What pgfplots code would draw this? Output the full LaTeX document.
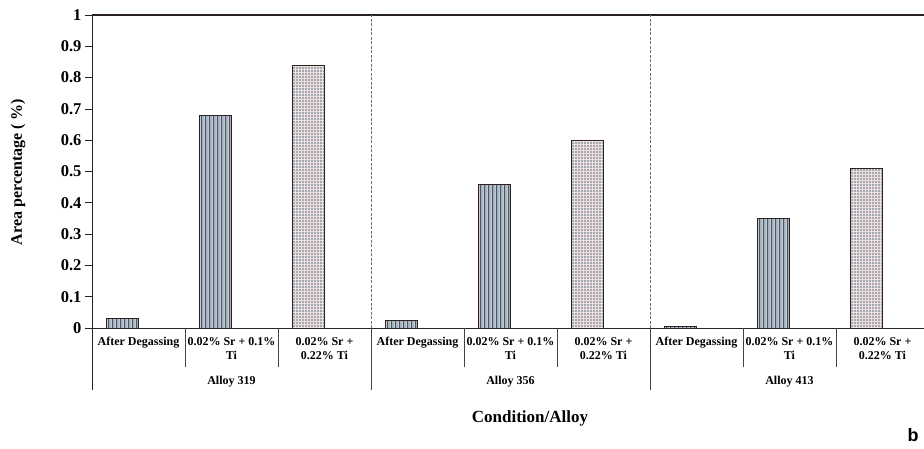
\documentclass[border=0pt]{standalone}
\usepackage{pgfplots}
\usepackage{pgfplotstable}
\pgfplotsset{compat=1.18}
\usepackage{fontspec}
\setmainfont{Liberation Serif}
\newfontfamily\labelsans{Liberation Sans}
\usetikzlibrary{patterns.meta}

\definecolor{stripedark}{HTML}{3C5D71}
\definecolor{stripelight}{HTML}{9DC0D3}
\definecolor{barback}{HTML}{F3D2CC}
\definecolor{dotcol}{HTML}{45758F}
\definecolor{dotback}{HTML}{F3DEDB}
\definecolor{sepline}{HTML}{3A4650}
\definecolor{dashcol}{HTML}{55788E}
\definecolor{axiscol}{HTML}{2A2222}

% after degassing and 0.02% Sr + 0.1% Ti (x = category index)
\pgfplotstableread{
x  y
0  0.03
1  0.68
3  0.025
4  0.46
6  0.005
7  0.35
}\striped
% 0.02% Sr + 0.22% Ti
\pgfplotstableread{
x  y
2  0.84
5  0.60
8  0.51
}\dotted

\begin{document}
\begin{tikzpicture}[x=1pt,y=1pt]
\path[use as bounding box] (0,0) rectangle (924,-449);
\begin{axis}[
  at={(92pt,-328pt)}, anchor=south west,
  scale only axis, width=837pt, height=313pt,
  xmin=-0.5, xmax=8.5, ymin=0, ymax=1,
  clip=false,
  axis x line*=bottom, axis y line*=left,
  axis line style={-, axiscol, line width=0.9pt},
  xtick={0,...,8},
  xticklabels={After Degassing, 0.02\% Sr + 0.1\%\\Ti, 0.02\% Sr +\\0.22\% Ti,
               After Degassing, 0.02\% Sr + 0.1\%\\Ti, 0.02\% Sr +\\0.22\% Ti,
               After Degassing, 0.02\% Sr + 0.1\%\\Ti, 0.02\% Sr +\\0.22\% Ti},
  xtick style={draw=none},
  x tick label style={font=\bfseries\fontsize{12}{13.5}\selectfont, align=center,
                      anchor=north, yshift=-6pt},
  ytick={0,0.1,...,1},
  yticklabels={0,0.1,0.2,0.3,0.4,0.5,0.6,0.7,0.8,0.9,1},
  ytick align=outside, major tick length=7pt,
  ytick style={axiscol, line width=0.8pt},
  y tick label style={font=\bfseries\fontsize{16.5}{16.5}\selectfont},
  every axis plot/.append style={ybar, forget plot},
]
% striped bars: pink ground, then dark and light vertical stripes, then outline
\addplot[bar width=32pt, bar shift=-16pt, fill=barback, draw=none] table {\striped};
\pgfplotsinvokeforeach{-30,-26,-22,-18,-14,-10,-6,-2}{
  \addplot[bar width=1.5pt, bar shift=#1pt, fill=stripedark, draw=none] table {\striped};
}
\pgfplotsinvokeforeach{-28,-24,-20,-16,-12,-8,-4}{
  \addplot[bar width=1.2pt, bar shift=#1pt, fill=stripelight, draw=none] table {\striped};
}
\addplot[bar width=32pt, bar shift=-16pt, fill=none, draw=axiscol, line width=0.8pt] table {\striped};
% dotted bars
\addplot[bar width=32pt, bar shift=-16pt, draw=axiscol, line width=0.8pt,
  fill=dotback, postaction={pattern color=dotcol, pattern={Dots[distance=3pt,radius=0.8pt]}}]
  table {\dotted};

% top frame line
\draw[axiscol, line width=1.6pt] (rel axis cs:0,1) -- (rel axis cs:1,1);
% alloy separators inside the plot
\draw[dashcol, line width=0.9pt, dash pattern=on 3pt off 1.5pt] (axis cs:2.5,0) -- (axis cs:2.5,1);
\draw[dashcol, line width=0.9pt, dash pattern=on 3pt off 1.5pt] (axis cs:5.5,0) -- (axis cs:5.5,1);
% category table lines below the axis
\draw[axiscol, line width=0.9pt] (axis cs:-0.5,0) -- ([yshift=-62pt]axis cs:-0.5,0);
\pgfplotsinvokeforeach{0.5,1.5,3.5,4.5,6.5,7.5}{
  \draw[sepline, line width=0.7pt] (axis cs:#1,0) -- ([yshift=-39pt]axis cs:#1,0);
}
\pgfplotsinvokeforeach{2.5,5.5,8.5}{
  \draw[sepline, line width=0.7pt] (axis cs:#1,0) -- ([yshift=-62pt]axis cs:#1,0);
}
% alloy names
\node[font=\bfseries\fontsize{12}{14}\selectfont] at ([yshift=-54pt]axis cs:1,0) {Alloy 319};
\node[font=\bfseries\fontsize{12}{14}\selectfont] at ([yshift=-54pt]axis cs:4,0) {Alloy 356};
\node[font=\bfseries\fontsize{12}{14}\selectfont] at ([yshift=-54pt]axis cs:7,0) {Alloy 413};
\end{axis}
\node[font=\bfseries\fontsize{17}{17}\selectfont] at (530,-418) {Condition/Alloy};
\node[rotate=90, font=\bfseries\fontsize{16}{16}\selectfont] at (18,-172) {Area percentage ( \%)};
\node[font=\labelsans\bfseries\fontsize{18}{18}\selectfont] at (913,-435) {b};
\end{tikzpicture}
\end{document}
